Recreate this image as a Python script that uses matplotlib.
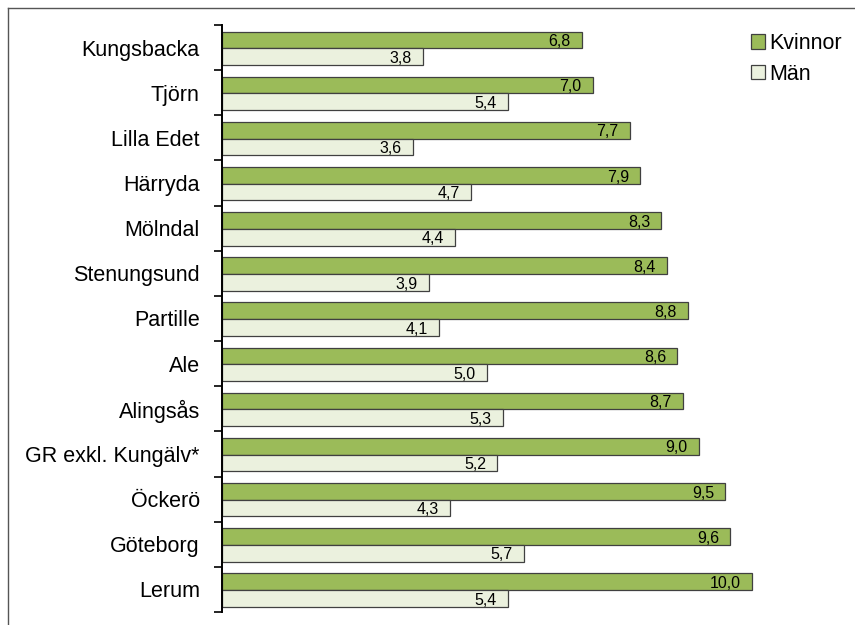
import numpy as np
import matplotlib.pyplot as plt
from matplotlib.patches import Patch
from matplotlib.lines import Line2D

plt.rcParams['font.family'] = ['Liberation Sans', 'DejaVu Sans']

kommuner = ["Kungsbacka", "Tjörn", "Lilla Edet", "Härryda", "Mölndal", "Stenungsund",
            "Partille", "Ale", "Alingsås", "GR exkl. Kungälv*", "Öckerö", "Göteborg", "Lerum"]
kvinnor = [6.8, 7.0, 7.7, 7.9, 8.3, 8.4, 8.8, 8.6, 8.7, 9.0, 9.5, 9.6, 10.0]
man = [3.8, 5.4, 3.6, 4.7, 4.4, 3.9, 4.1, 5.0, 5.3, 5.2, 4.3, 5.7, 5.4]

green = "#9bbb59"
light = "#ebf1de"
edge = "#404040"

W, H = 855, 625
fig = plt.figure(figsize=(W / 100, H / 100), dpi=100)
# plot area in pixels: left 222, top 25, bottom 612
xmax = 10.4
left, right = 222, 222 + xmax * 52.95
top, bottom = 25, 612
ax = fig.add_axes([left / W, 1 - bottom / H, (right - left) / W, (bottom - top) / H])

y = np.arange(len(kommuner))
h = 0.37
b1 = ax.barh(y - 0.17, kvinnor, height=h, color=green, edgecolor=edge, linewidth=0.9)
b2 = ax.barh(y + 0.2, man, height=h, color=light, edgecolor=edge, linewidth=0.9)

for bars, vals in ((b1, kvinnor), (b2, man)):
    for bar, v in zip(bars, vals):
        ax.annotate(f"{v:.1f}".replace(".", ","),
                    xy=(bar.get_width(), bar.get_y() + bar.get_height() / 2),
                    xytext=(-8, -1.2), textcoords="offset points",
                    ha="right", va="center", fontsize=11.5, color="black")

ax.set_xlim(0, xmax)
ax.set_ylim(len(kommuner) - 0.5, -0.5)
ax.set_yticks(y)
ax.set_yticklabels(kommuner, fontsize=15.5)
ax.set_yticks(np.arange(len(kommuner) + 1) - 0.5, minor=True)
ax.tick_params(axis="y", which="major", length=0, pad=16)
ax.tick_params(axis="y", which="minor", length=6, width=1.2, direction="out", color="black")
ax.set_xticks([])
for s in ("top", "right", "bottom"):
    ax.spines[s].set_visible(False)
ax.spines["left"].set_linewidth(1.4)
ax.spines["left"].set_color("black")

handles = [Patch(facecolor=green, edgecolor=edge, linewidth=0.9, label="Kvinnor"),
           Patch(facecolor=light, edgecolor=edge, linewidth=0.9, label="Män")]
fig.legend(handles=handles, loc="upper left", bbox_to_anchor=(751 / W, 1 - 33 / H),
           frameon=False, fontsize=15.5, handlelength=0.65, handleheight=0.65,
           handletextpad=0.2, labelspacing=0.45, borderaxespad=0, borderpad=0)

# outer frame (left and top edges visible)
fig.add_artist(Line2D([8 / W, 8 / W], [0, 1 - 8 / H], transform=fig.transFigure,
                      color="#555555", linewidth=1.0))
fig.add_artist(Line2D([8 / W, 1], [1 - 8 / H, 1 - 8 / H], transform=fig.transFigure,
                      color="#555555", linewidth=1.0))

plt.savefig("out.png", dpi=100)
plt.close()
